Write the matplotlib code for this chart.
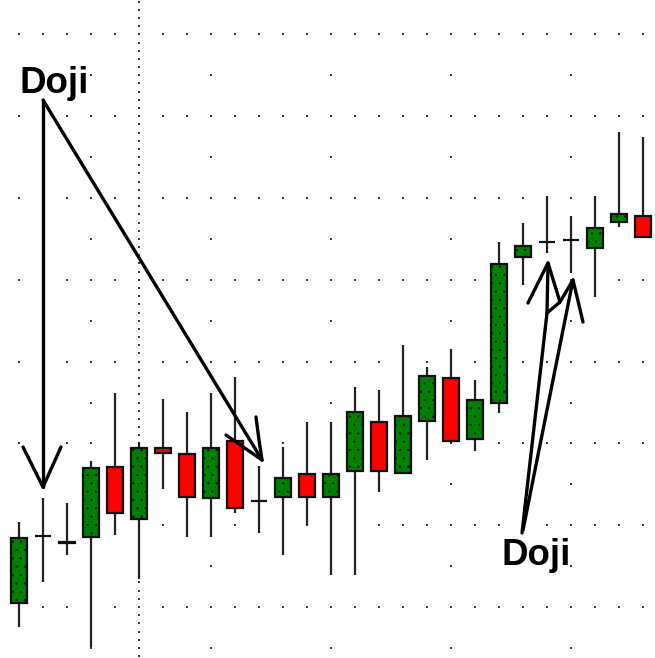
import matplotlib
matplotlib.use("Agg")
import matplotlib.pyplot as plt
from matplotlib.patches import Rectangle
from matplotlib.lines import Line2D
import numpy as np

plt.rcParams['hatch.linewidth'] = 0.5

# ---- data (price units; gridlines every 10) ----
opens  = [100.5, 108.7, 108.0, 108.6, 117.1, 110.8, 119.4, 118.7, 113.3, 120.3,
          113.0, 113.4, 116.3, 113.4, 116.6, 122.6, 116.4, 122.7, 128.0, 120.5,
          124.9, 142.8, 144.6, 144.9, 143.9, 147.1, 147.8]
closes = [108.4, 108.7, 107.8, 117.0, 111.5, 119.4, 118.8, 113.4, 119.4, 112.1,
          113.0, 115.8, 113.4, 116.3, 123.8, 116.6, 123.3, 128.2, 120.3, 125.3,
          141.9, 144.1, 144.6, 144.9, 146.3, 148.0, 145.2]
highs  = [110.4, 113.3, 112.7, 117.8, 126.2, 120.2, 125.4, 123.8, 126.2, 128.1,
          117.2, 119.6, 122.6, 122.6, 126.9, 126.5, 132.0, 129.3, 131.5, 127.8,
          144.6, 146.9, 150.2, 147.8, 150.2, 158.1, 157.5]
lows   = [97.6, 103.1, 106.4, 95.1, 108.8, 103.4, 114.4, 108.6, 108.6, 111.5,
          109.0, 106.4, 110.0, 103.9, 103.9, 114.1, 116.4, 118.0, 120.0, 119.1,
          123.7, 139.4, 143.3, 140.8, 137.9, 146.5, 145.2]
grid_prices = [100, 110, 120, 130, 140, 150, 160, 170]
vgrid_bars = [3, 8, 13, 18, 23]
separator_bar = 5
annot_text = "Doji"

W, H = 655, 658
fig = plt.figure(figsize=(W / 100, H / 100), dpi=100)
ax = fig.add_axes([0, 0, 1, 1])
ax.set_xlim(-0.7917, 26.5)
ax.set_ylim(93.77, 174.2)
ax.axis('off')

n = len(opens)
idx = np.arange(n)

# ---- dotted grid ----
dot_color = '#3a3a3a'
gx, gy = np.meshgrid(idx, grid_prices)
ax.scatter(gx.ravel(), gy.ravel(), s=2.2, marker='s', color=dot_color, linewidths=0, zorder=1)
vp = np.arange(95, 175, 5)
vx, vy = np.meshgrid(vgrid_bars, vp)
ax.scatter(vx.ravel(), vy.ravel(), s=2.2, marker='s', color=dot_color, linewidths=0, zorder=1)
sp = np.arange(94, 175, 1)
ax.scatter(np.full(len(sp), separator_bar), sp, s=2.2, marker='s', color=dot_color, linewidths=0, zorder=1)

# ---- candles ----
bw = 0.7
ax.vlines(idx, lows, highs, color='#222222', linewidth=1.6, zorder=3)
for i in range(n):
    o, c = opens[i], closes[i]
    lo, hi = min(o, c), max(o, c)
    if c > o:
        face = '#008000'
        hatch = '..'
    elif c < o:
        face = '#ff0000'
        hatch = None
    else:
        face = 'none'
        hatch = None
    r = Rectangle((i - bw / 2, lo), bw, hi - lo, facecolor=face, edgecolor='#111111',
                  linewidth=1.6, hatch=hatch, zorder=4)
    ax.add_patch(r)

# ---- annotations (pixel positions converted to figure fraction) ----
def P(x, y):
    return (x / W, 1 - y / H)

def poly(points, lw=2.4):
    xs = [P(*p)[0] for p in points]
    ys = [P(*p)[1] for p in points]
    fig.add_artist(Line2D(xs, ys, color='black', linewidth=lw,
                          solid_capstyle='round', solid_joinstyle='round', zorder=6))

# left doji arrows
poly([(43, 100), (43, 487)])
poly([(23, 447), (43, 487), (61, 447)])
poly([(43, 100), (262, 460)])
poly([(226, 435), (262, 460)])
poly([(256, 417), (259, 440), (262, 460)])

# right doji arrows
poly([(522, 533), (547, 313), (548, 263)])
poly([(528, 303), (548, 263), (560, 302), (547, 313)])
poly([(523, 530), (573, 280)])
poly([(560, 302), (573, 280), (583, 322)])

fig.text(*P(19, 93), annot_text, fontsize=26.5, fontweight='bold',
         family=['Liberation Sans', 'DejaVu Sans'], ha='left', va='baseline', zorder=7)
fig.text(*P(501, 565), annot_text, fontsize=26.5, fontweight='bold',
         family=['Liberation Sans', 'DejaVu Sans'], ha='left', va='baseline', zorder=7)

fig.savefig('out.png', dpi=100, facecolor='white')
